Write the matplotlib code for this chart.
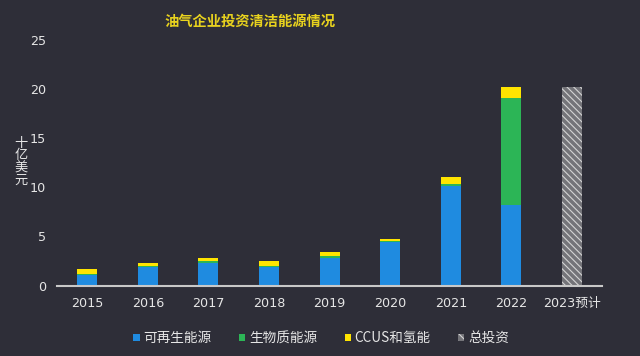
import matplotlib
matplotlib.use("Agg")
import matplotlib.pyplot as plt
from matplotlib.patches import Patch
import numpy as np

plt.rcParams['font.family'] = ['DejaVu Sans', 'Noto Sans CJK SC']
plt.rcParams['hatch.linewidth'] = 0.8

# data (billion USD)
years = ['2015', '2016', '2017', '2018', '2019', '2020', '2021', '2022', '2023预计']
renewable = [1.1, 1.85, 2.25, 1.9, 2.8, 4.4, 10.1, 8.2]
biomass = [0.05, 0.1, 0.2, 0.1, 0.2, 0.1, 0.25, 10.9]
ccus_h2 = [0.55, 0.35, 0.35, 0.45, 0.45, 0.2, 0.65, 1.1]
total_2023 = [20.2]

series_names = ['可再生能源', '生物质能源', 'CCUS和氢能', '总投资']
c_blue = '#1f8be0'
c_green = '#2cb556'
c_yellow = '#ffe400'
bg = '#2e2e38'
txt = '#e6e6e6'

fig = plt.figure(figsize=(6.4, 3.56), dpi=100, facecolor=bg)
ax = fig.add_axes([0.089, 0.198, 0.852, 0.69])
ax.set_facecolor(bg)

x = np.arange(len(years))
n = len(renewable)
w = 0.33
r = np.array(renewable)
b = np.array(biomass)
c = np.array(ccus_h2)
ax.bar(x[:n], r, w, color=c_blue)
ax.bar(x[:n], b, w, bottom=r, color=c_green)
ax.bar(x[:n], c, w, bottom=r + b, color=c_yellow)
ax.bar(x[n:], total_2023, w, color='#747479', edgecolor='#d4d4d4',
       hatch='\\\\\\\\\\', linewidth=0)

ax.set_xlim(-0.5, 8.5)
ax.set_ylim(0, 25)
ax.set_yticks([0, 5, 10, 15, 20, 25])
ax.set_xticks(x)
ax.set_xticklabels(years)
ax.tick_params(length=0, colors=txt, labelsize=9.2, pad=8)
ax.tick_params(axis='y', pad=8)
for s in ['top', 'right', 'left']:
    ax.spines[s].set_visible(False)
ax.spines['bottom'].set_color('#c8c8c8')
ax.spines['bottom'].set_linewidth(1.5)

fig.text(0.39, 0.938, '油气企业投资清洁能源情况', color='#e8d21e', fontsize=10.3,
         weight='bold', ha='center', va='center', family=['Noto Sans CJK SC'])
fig.text(0.033, 0.545, '十\n亿\n美\n元', color=txt, fontsize=9.5, ha='center',
         va='center', linespacing=0.95, family=['Noto Sans CJK SC'])

handles = [Patch(facecolor=c_blue), Patch(facecolor=c_green),
           Patch(facecolor=c_yellow),
           Patch(facecolor='#747479', edgecolor='#d4d4d4', hatch='\\\\\\\\', linewidth=0)]
leg = fig.legend(handles, series_names, loc='center', bbox_to_anchor=(0.502, 0.05),
                 ncol=4, frameon=False, handlelength=0.45, handleheight=0.45,
                 handletextpad=0.3, columnspacing=2.0,
                 prop={'family': ['Noto Sans CJK SC'], 'size': 9.8})
for t in leg.get_texts():
    t.set_color(txt)

fig.savefig('out.png', dpi=100, facecolor=bg)
